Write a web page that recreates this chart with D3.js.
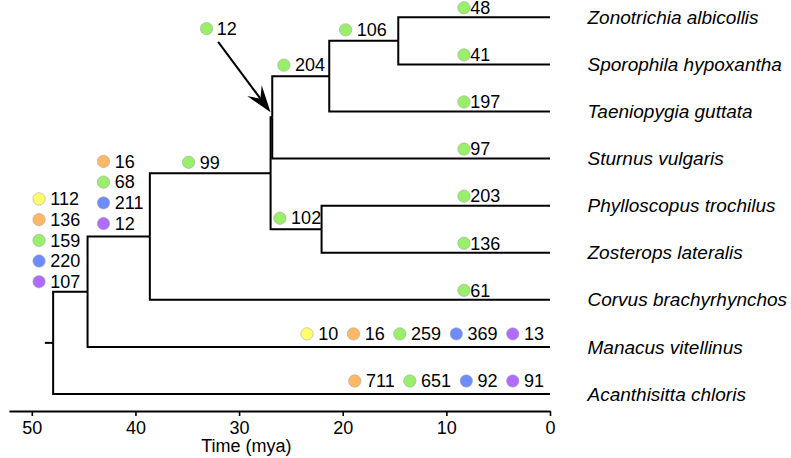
<!DOCTYPE html>
<html>
<head>
<meta charset="utf-8">
<script src="https://cdn.jsdelivr.net/npm/d3@7/dist/d3.min.js"></script>
<style>
  body { margin: 0; background: #fff; }
  svg { display: block; }
  text { font-family: "Liberation Sans", Arial, Helvetica, sans-serif; fill: #000; }
</style>
</head>
<body>
<svg id="chart" width="791" height="458"></svg>
<script>
// ---- Tree data -------------------------------------------------------------
const species = [
  "Zonotrichia albicollis", "Sporophila hypoxantha", "Taeniopygia guttata",
  "Sturnus vulgaris", "Phylloscopus trochilus", "Zosterops lateralis",
  "Corvus brachyrhynchos", "Manacus vitellinus", "Acanthisitta chloris"
];
const speciesParent = ["n6", "n6", "n5", "n4", "n7", "n7", "n2", "n1", "root"];

const nodeIds    = ["root", "n1", "n2", "n3", "n4", "n5", "n6", "n7"];
const nodeParent = [null, "root", "n1", "n2", "n3", "n4", "n5", "n3"];
const nodeAges   = [47.94, 44.62, 38.61, 26.96, 26.8, 21.3, 14.64, 22.04]; // mya
const rootEdge   = 0.8;

// ---- Count annotations (five categories) -----------------------------------
const categoryColors = ["#ffff6b", "#ffb866", "#99ef6a", "#6e8cff", "#b26bff"];

const tipCounts = [
  [null, null, 48, null, null],
  [null, null, 41, null, null],
  [null, null, 197, null, null],
  [null, null, 97, null, null],
  [null, null, 203, null, null],
  [null, null, 136, null, null],
  [null, null, 61, null, null],
  [10, 16, 259, 369, 13],
  [null, 711, 651, 92, 91]
];

const branchNodes  = ["n1", "n2", "n3", "n4", "n5", "n6", "n7"];
const branchCounts = [
  [112, 136, 159, 220, 107],
  [null, 16, 68, 211, 12],
  [null, null, 99, null, null],
  [null, null, 12, null, null],
  [null, null, 204, null, null],
  [null, null, 106, null, null],
  [null, null, 102, null, null]
];

const ageTicks = [50, 40, 30, 20, 10, 0];
const axisTitle = "Time (mya)";

// ---- Annotation placement (ages in mya, offsets in px) ------------------------
const branchLabelAge = { n1: 49.3, n2: 43.08, n3: 34.87, n4: 33.14, n5: 25.68, n6: 19.72, n7: 26.06 };
const stackLift = { n1: 10, n2: 13 };
const calloutNode = "n4";
const tipLabelAge = 8.3;
const tipRowEndAge = 0.58;

// ---- Scales ------------------------------------------------------------------
const svg = d3.select("#chart");
const x = d3.scaleLinear().domain([52.2, 0]).range([9, 550]);
const y = d3.scaleLinear().domain([0, species.length - 1]).range([17.3, 394]);

// ---- Hierarchy & layout ----------------------------------------------------------
const rows = nodeIds.map((id, i) => ({ id, parent: nodeParent[i], age: nodeAges[i] }))
  .concat(species.map((s, i) => ({ id: s, parent: speciesParent[i], age: 0, tip: i })));
const root = d3.stratify().id(d => d.id).parentId(d => d.parent)(rows);

root.eachAfter(n => {
  if (!n.children) {
    n.py = y(n.data.tip);
  } else {
    n.children.sort((a, b) => a.py - b.py);
    n.py = d3.mean(n.children, c => c.py);
  }
  n.px = x(n.data.age);
});
const byId = new Map(root.descendants().map(n => [n.id, n]));

// ---- Branches ------------------------------------------------------------------
const gTree = svg.append("g")
  .attr("fill", "none")
  .attr("stroke", "#000")
  .attr("stroke-width", 2);

gTree.selectAll("path.edge")
  .data(root.descendants().filter(n => n.parent))
  .join("path")
  .attr("class", "edge")
  .attr("d", n => `M${n.parent.px},${n.parent.py}V${n.py}H${n.px}`);

gTree.append("path")
  .attr("d", `M${x(nodeAges[0] + rootEdge)},${root.py}H${root.px}`);

// ---- Axis --------------------------------------------------------------------------
const axis = d3.axisBottom(x).tickValues(ageTicks).tickSize(5).tickSizeOuter(0).tickPadding(5);
const gAxis = svg.append("g").attr("transform", "translate(0,411)").call(axis);
gAxis.select(".domain").attr("stroke-width", 2);
gAxis.selectAll(".tick line").attr("stroke-width", 1.6);
gAxis.selectAll(".tick text")
  .attr("font-size", 18)
  .attr("font-family", "Liberation Sans, Arial, sans-serif");

svg.append("text")
  .attr("x", x(29.3))
  .attr("y", 452)
  .attr("text-anchor", "middle")
  .attr("font-size", 18)
  .text(axisTitle);

// ---- Species names --------------------------------------------------------------
svg.append("g").selectAll("text")
  .data(species)
  .join("text")
  .attr("x", x(0) + 37.5)
  .attr("y", (d, i) => y(i))
  .attr("dy", "0.35em")
  .attr("font-size", 19)
  .attr("font-style", "italic")
  .text(d => d);

// ---- Count markers --------------------------------------------------------------
const gLab = svg.append("g");
const R = 6.2;

function marker(cx, cy, ci, value, gap) {
  gLab.append("circle")
    .attr("cx", cx).attr("cy", cy).attr("r", R)
    .attr("fill", categoryColors[ci])
    .attr("stroke", "#a8a8a8").attr("stroke-width", 0.6);
  gLab.append("text")
    .attr("x", cx + R + gap).attr("y", cy).attr("dy", "0.35em")
    .attr("font-size", 18)
    .text(value);
}

function present(vals) {
  return vals.map((v, i) => ({ v, i })).filter(d => d.v != null);
}

// tip annotations
tipCounts.forEach((vals, t) => {
  const items = present(vals);
  const ty = y(t);
  if (items.length === 1) {
    marker(x(tipLabelAge), ty - 9.5, items[0].i, items[0].v, 0);
  } else {
    // right-aligned row of markers above the branch
    let cursor = x(tipRowEndAge);
    const cy = ty - 13;
    items.slice().reverse().forEach(d => {
      const probe = gLab.append("text").attr("font-size", 18).text(d.v);
      const w = probe.node().getComputedTextLength();
      probe.remove();
      const cx = cursor - w - 5 - R;
      marker(cx, cy, d.i, d.v, 5);
      cursor = cx - R - 9;
    });
  }
});

// branch annotations
branchNodes.forEach((id, k) => {
  const node = byId.get(id);
  const items = present(branchCounts[k]);
  const cx = x(branchLabelAge[id]);
  if (id === calloutNode) {
    const cy = y(0.24);
    marker(cx, cy, items[0].i, items[0].v, 4);
    // arrow to the short branch
    const x0 = cx + 11.6, y0 = cy + 13.2;
    const x1 = node.parent.px, y1 = node.py - 5;
    const len = Math.hypot(x1 - x0, y1 - y0);
    const ux = (x1 - x0) / len, uy = (y1 - y0) / len;
    const px = -uy, py = ux;
    const notch = 17, back = 27, half = 9;
    svg.append("line")
      .attr("x1", x0).attr("y1", y0)
      .attr("x2", x1 - ux * notch).attr("y2", y1 - uy * notch)
      .attr("stroke", "#000").attr("stroke-width", 2);
    const head = [
      [x1, y1],
      [x1 - ux * back + px * half, y1 - uy * back + py * half],
      [x1 - ux * notch, y1 - uy * notch],
      [x1 - ux * back - px * half, y1 - uy * back - py * half]
    ];
    svg.append("path")
      .attr("d", "M" + head.map(p => p.join(",")).join("L") + "Z")
      .attr("fill", "#000");
  } else {
    const step = 20.7;
    const bottom = node.py - (stackLift[id] || 11);
    items.forEach((d, j) => {
      const cy = bottom - (items.length - 1 - j) * step;
      marker(cx, cy, d.i, d.v, 5);
    });
  }
});
</script>
</body>
</html>
